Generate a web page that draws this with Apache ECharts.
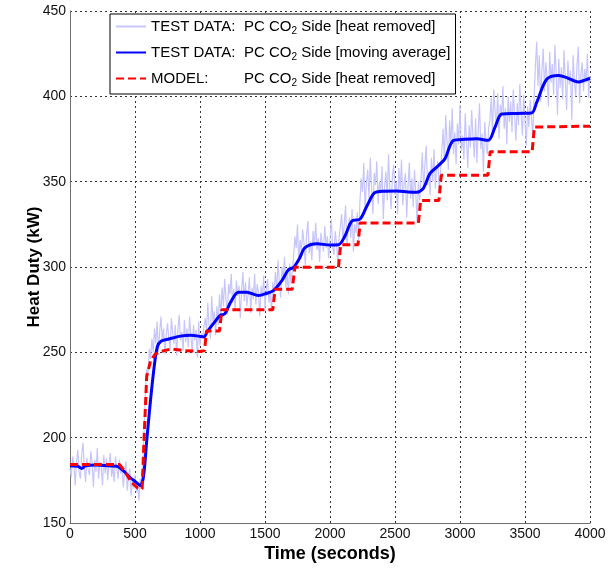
<!DOCTYPE html>
<html>
<head>
<meta charset="utf-8">
<script src="https://cdn.jsdelivr.net/npm/echarts@6/dist/echarts.min.js"></script>
<style>
  html, body { margin: 0; padding: 0; background: #ffffff; }
  #chart { width: 613px; height: 568px; }
</style>
</head>
<body>
<div id="chart"></div>
<script>
// Raw measured heat removed (kW), one sample every 10 s from t = 0 s
const rawStart = 0;
const rawStep = 10;
const rawHeat = [
  // 0 - 550 s
  182, 177, 189, 184, 172, 186, 193, 180, 176, 190,
  197, 183, 174, 188, 181, 178, 192, 185, 171, 187,
  180, 194, 176, 186, 183, 172, 190, 179, 188, 175,
  185, 191, 177, 183, 174, 189, 182, 176, 187, 179,
  183, 171, 180, 186, 169, 177, 182, 166, 175, 170,
  178, 168, 173, 163, 176, 171,
  // 560 - 650 s
  184, 205, 226, 240, 236, 252, 246, 258, 250, 264,
  // 660 - 1030 s
  255, 268, 250, 262, 271, 256, 264, 249, 260, 267,
  258, 252, 270, 261, 255, 266, 248, 263, 272, 257,
  262, 251, 269, 256, 264, 253, 271, 259, 250, 266,
  257, 263, 247, 268, 254, 261, 259, 265,
  // 1040 - 1160 s
  270, 262, 279, 265, 258, 283, 268, 274, 260, 277, 266, 284, 271,
  // 1170 - 1570 s
  288, 277, 293, 281, 272, 290, 284, 296, 279, 287,
  275, 292, 283, 289, 270, 286, 297, 280, 291, 277,
  284, 294, 273, 288, 281, 296, 278, 290, 285, 271,
  289, 282, 295, 276, 287, 293, 279, 286, 274, 291,
  284,
  // 1580 - 1710 s
  297, 286, 304, 291, 282, 300, 293, 306, 288, 296, 284, 302, 290, 298,
  // 1720 - 2070 s
  306, 318, 311, 325, 303, 316, 309, 322, 314, 301,
  319, 327, 308, 315, 304, 321, 312, 326, 310, 317,
  303, 320, 314, 309, 324, 311, 318, 305, 316, 328,
  312, 307, 321, 314, 302, 317,
  // 2080 - 2220 s
  318, 331, 314, 326, 336, 312, 323, 329, 317, 334, 309, 325, 320, 332, 316,
  // 2230 - 2690 s
  338, 352, 344, 361, 333, 349, 357, 340, 364, 346,
  331, 355, 348, 362, 337, 350, 343, 359, 328, 347,
  356, 339, 366, 345, 334, 353, 360, 342, 350, 331,
  358, 344, 363, 336, 349, 355, 329, 347, 361, 340,
  352, 335, 357, 343, 326, 350, 339,
  // 2700 - 2850 s
  352, 367, 345, 360, 371, 348, 356, 342, 364, 350, 369, 346, 358, 362, 344, 355,
  // 2860 - 3220 s
  368, 381, 362, 389, 374, 357, 386, 371, 393, 366,
  379, 360, 384, 372, 395, 368, 377, 363, 390, 374,
  358, 383, 370, 392, 376, 364, 387, 361, 380, 396,
  369, 378, 356, 385, 373, 366, 381,
  // 3230 - 3560 s
  386, 399, 378, 404, 391, 382, 402, 375, 395, 388,
  406, 381, 393, 372, 400, 385, 397, 379, 404, 389,
  374, 396, 383, 407, 390, 377, 401, 386, 371, 394,
  382, 398, 387, 376,
  // 3570 - 4000 s
  400, 418, 432, 406, 424, 397, 415, 428, 403, 420,
  411, 394, 426, 408, 419, 401, 430, 413, 389, 422,
  405, 417, 398, 427, 410, 392, 421, 407, 415, 386,
  424, 409, 400, 418, 429, 396, 413, 420, 403, 416,
  408, 425, 399, 412
];

// Moving average of the measured heat removed
const avgTime = [
  0, 60, 90, 120, 200, 300, 360, 410, 460, 510, 540, 565, 590, 615, 645, 672, 700, 760, 850, 930,
  990, 1030, 1055, 1100, 1155, 1190, 1240, 1295, 1360, 1450, 1510, 1565, 1630, 1680, 1720, 1765, 1808, 1900, 2000, 2065,
  2115, 2167, 2232, 2282, 2346, 2420, 2513, 2600, 2667, 2718, 2769, 2833, 2885, 2950, 3040, 3128, 3218, 3270, 3321, 3440,
  3551, 3590, 3667, 3760, 3820, 3910, 3960, 4000
];
const avgHeat = [
  183.5, 183.3, 182.0, 183.5, 184.0, 183.5, 183.3, 180.7, 176.8, 173.8, 172.0, 177.0, 198.0, 218.5, 240.0, 253.3, 256.5, 257.8, 259.5, 260.0,
  259.5, 259.0, 262.0, 266.5, 271.7, 272.5, 280.0, 285.2, 285.2, 283.3, 284.5, 286.2, 292.0, 298.4, 299.8, 305.0, 311.3, 313.6, 312.9, 313.0,
  318.1, 326.8, 328.1, 335.5, 343.6, 344.4, 344.6, 344.0, 343.8, 346.1, 354.8, 359.3, 363.5, 374.2, 374.8, 375.1, 374.2, 382.0, 389.6, 390.0,
  390.2, 396.4, 410.0, 412.2, 411.0, 408.4, 409.5, 410.6
];

// Model prediction of the heat removed
const modelTime = [
  0, 380, 420, 470, 520, 555, 570, 590, 620, 655, 700, 780, 880, 1000, 1035, 1050, 1150, 1168, 1560, 1578,
  1710, 1730, 2065, 2082, 2215, 2232, 2680, 2697, 2838, 2856, 3215, 3232, 3555, 3572, 4000
];
const modelHeat = [
  184.3, 184.3, 180.5, 174.0, 170.5, 170.0, 200.0, 236.0, 245.0, 249.0, 250.5, 252.0, 251.0, 250.5, 251.0, 262.5, 262.5, 275.0, 275.0, 287.0,
  287.0, 299.8, 299.8, 313.0, 313.0, 325.8, 325.8, 339.0, 339.0, 353.8, 353.8, 367.6, 367.6, 382.0, 382.5
];

// Axis ranges and tick spacing
const timeTicks = { min: 0, max: 4000, interval: 500 };
const dutyTicks = { min: 150, max: 450, interval: 50 };

const pairs = (xs, ys) => xs.map((x, i) => [x, ys[i]]);
const rawData = rawHeat.map((v, i) => [rawStart + i * rawStep, v]);

const FONT = "'Liberation Sans', Arial, Helvetica, sans-serif";

const legendText = {
  heat:  '{t|TEST DATA:}{b|PC CO}{s|2}{b| Side [heat removed]}',
  avg:   '{t|TEST DATA:}{b|PC CO}{s|2}{b| Side [moving average]}',
  model: '{t|MODEL:}{b|PC CO}{s|2}{b| Side [heat removed]}'
};

const chart = echarts.init(document.getElementById('chart'), null, { renderer: 'canvas' });

const gridLine = { show: true, lineStyle: { color: '#333333', width: 1, type: [2, 3] } };

chart.setOption({
  backgroundColor: '#ffffff',
  animation: false,
  grid: { left: 70, right: 23, top: 11, bottom: 40, containLabel: false },
  legend: {
    orient: 'vertical',
    left: 110,
    top: 14,
    padding: [5, 5, 6, 5],
    itemGap: 9,
    itemWidth: 30,
    itemHeight: 15,
    backgroundColor: '#ffffff',
    borderColor: '#000000',
    borderWidth: 1,
    borderRadius: 0,
    itemStyle: { opacity: 0 },
    data: ['heat', 'avg', 'model'],
    formatter: name => legendText[name],
    textStyle: {
      fontFamily: FONT,
      color: '#000000',
      rich: {
        t: { fontFamily: FONT, fontSize: 15, color: '#000000', width: 93 },
        b: { fontFamily: FONT, fontSize: 15, color: '#000000' },
        s: { fontFamily: FONT, fontSize: 10, color: '#000000', padding: [9, 0, 0, 0] }
      }
    }
  },
  xAxis: {
    type: 'value',
    min: timeTicks.min,
    max: timeTicks.max,
    interval: timeTicks.interval,
    name: 'Time (seconds)',
    nameLocation: 'middle',
    nameGap: 22,
    nameMoveOverlap: false,
    nameTextStyle: { fontFamily: FONT, fontSize: 18, fontWeight: 'bold', color: '#000000' },
    axisLine: { show: true, onZero: false, lineStyle: { color: '#6e6e6e', width: 1 } },
    axisTick: { show: false },
    axisLabel: { fontFamily: FONT, fontSize: 14, color: '#111111', margin: 4, formatter: v => String(v) },
    splitLine: gridLine
  },
  yAxis: {
    type: 'value',
    min: dutyTicks.min,
    max: dutyTicks.max,
    interval: dutyTicks.interval,
    name: 'Heat Duty (kW)',
    nameLocation: 'middle',
    nameGap: 27,
    nameMoveOverlap: false,
    nameTextStyle: { fontFamily: FONT, fontSize: 17, fontWeight: 'bold', color: '#000000' },
    axisLine: { show: true, lineStyle: { color: '#6e6e6e', width: 1 } },
    axisTick: { show: false },
    axisLabel: { fontFamily: FONT, fontSize: 14, color: '#111111', margin: 4, formatter: v => String(v) },
    splitLine: gridLine
  },
  series: [
    {
      name: 'heat',
      type: 'line',
      data: rawData,
      symbol: 'none',
      lineStyle: { color: '#c6c6fc', width: 1.2 },
      itemStyle: { color: '#c6c6fc' },
      z: 1
    },
    {
      name: 'avg',
      type: 'line',
      data: pairs(avgTime, avgHeat),
      symbol: 'none',
      smooth: 0.3,
      lineStyle: { color: '#0000ff', width: 3 },
      itemStyle: { color: '#0000ff' },
      z: 2
    },
    {
      name: 'model',
      type: 'line',
      data: pairs(modelTime, modelHeat),
      symbol: 'none',
      lineStyle: { color: '#ff0000', width: 3, type: [8, 4] },
      itemStyle: { color: '#ff0000' },
      z: 3
    }
  ]
});
</script>
</body>
</html>
